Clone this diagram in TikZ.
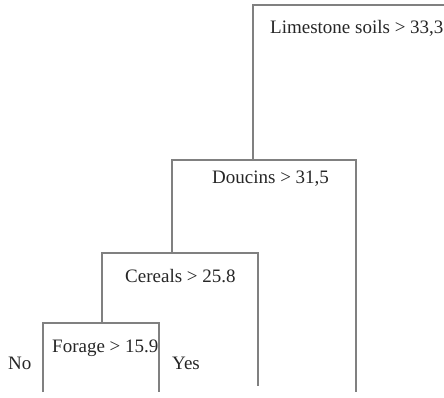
\documentclass[tikz,border=0pt]{standalone}
\usepackage{fontspec}
\setmainfont{Liberation Serif}
\usetikzlibrary{positioning}
\tikzset{split/.style={draw=black!50,line width=1.3pt,line join=miter}}
\tikzset{cond/.style={anchor=base west,inner sep=0pt,text=black!85,font=\fontsize{19}{21}\selectfont}}

\begin{document}
\begin{tikzpicture}[x=1pt,y=-1pt]
            \useasboundingbox (0,0) rectangle (444,397);
            % bracket corners
            \coordinate (limeL) at (253,5);
            \coordinate (limeR) at (446,5);
            \coordinate (douC)  at (253,160);
            \coordinate (douL)  at (172,160);
            \coordinate (douR)  at (356,160);
            \coordinate (douRf) at (356,392);
            \coordinate (cerC)  at (172,253);
            \coordinate (cerL)  at (102,253);
            \coordinate (cerR)  at (258,253);
            \coordinate (cerRf) at (258,386);
            \coordinate (forC)  at (102,323);
            \coordinate (forL)  at (43,323);
            \coordinate (forR)  at (159,323);
            \coordinate (forLf) at (43,392);
            \coordinate (forRf) at (159,392);
            \draw[split] (douC) -- (limeL) -- (limeR);
            \draw[split] (cerC) -- (douL) -- (douR) -- (douRf);
            \draw[split] (forC) -- (cerL) -- (cerR) -- (cerRf);
            \draw[split] (forLf) -- (forL) -- (forR) -- (forRf);
            \node[cond] (lime) at (270,33) {Limestone soils > 33,3};
            \node[cond] (dou)  at (212,183) {Doucins > 31,5};
            \node[cond] (cer)  at (125,282) {Cereals > 25.8};
            \node[cond] (for)  at (52,352) {Forage > 15.9};
            \node[cond] (no)   at (8,369) {No};
            \node[cond] (yes)  at (172,369) {Yes};
\end{tikzpicture}
\end{document}
